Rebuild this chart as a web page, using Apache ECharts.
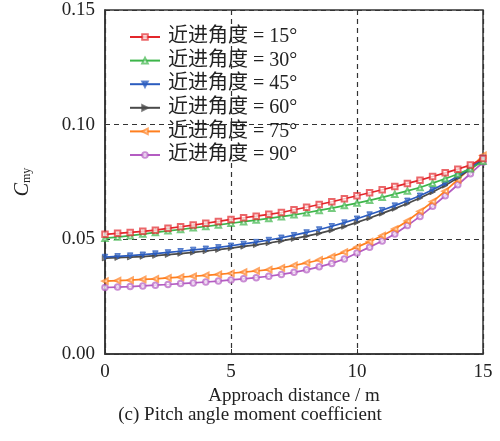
<!DOCTYPE html>
<html>
<head>
<meta charset="utf-8">
<script src="https://cdn.jsdelivr.net/npm/echarts@6/dist/echarts.min.js"></script>
<style>
  html, body { margin: 0; padding: 0; background: #fff; }
  #chart { width: 500px; height: 441px; }
</style>
</head>
<body>
<div id="chart"></div>
<script>
// approach distance, m (0 .. 15 step 0.5)
let distance = [0, 0.5, 1, 1.5, 2, 2.5, 3, 3.5, 4, 4.5, 5, 5.5, 6, 6.5, 7, 7.5,
    8, 8.5, 9, 9.5, 10, 10.5, 11, 11.5, 12, 12.5, 13, 13.5, 14, 14.5, 15];

let angle15 = [.0522, .0526, .0530, .0535, .0540, .0548, .0555, .0562, .0570, .0578, .0587,
    .0594, .0601, .0609, .0617, .0629, .0640, .0652, .0664, .0677, .0690,
    .0703, .0716, .0730, .0744, .0758, .0774, .0790, .0806, .0824, .0852];
let angle30 = [.0505, .0510, .0516, .0523, .0530, .0537, .0543, .0550, .0556, .0563, .0570,
    .0577, .0584, .0591, .0599, .0607, .0616, .0626, .0636, .0647, .0658,
    .0670, .0683, .0697, .0711, .0726, .0745, .0764, .0785, .0808, .0840];
let angle45 = [.0423, .0426, .0429, .0433, .0438, .0443, .0448, .0454, .0459, .0465, .0472,
    .0480, .0488, .0497, .0507, .0518, .0530, .0543, .0557, .0573, .0590,
    .0608, .0627, .0647, .0668, .0690, .0716, .0744, .0775, .0812, .0855];
let angle60 = [.0418, .0420, .0422, .0425, .0429, .0433, .0438, .0443, .0449, .0455, .0462,
    .0469, .0476, .0484, .0493, .0503, .0514, .0526, .0540, .0556, .0574,
    .0593, .0613, .0634, .0656, .0680, .0706, .0735, .0768, .0806, .0848];
let angle75 = [.0318, .0320, .0322, .0325, .0328, .0332, .0335, .0339, .0343, .0347, .0352,
    .0357, .0362, .0368, .0376, .0386, .0397, .0410, .0425, .0444, .0466,
    .0490, .0516, .0545, .0580, .0622, .0664, .0710, .0760, .0812, .0866];
let angle90 = [.0290, .0292, .0294, .0297, .0300, .0303, .0307, .0310, .0314, .0318, .0323,
    .0328, .0333, .0339, .0347, .0356, .0367, .0380, .0395, .0414, .0440,
    .0466, .0493, .0523, .0560, .0600, .0644, .0690, .0738, .0786, .0836];

let seriesNames = ['近进角度 = 15°', '近进角度 = 30°', '近进角度 = 45°',
    '近进角度 = 60°', '近进角度 = 75°', '近进角度 = 90°'];
let seriesValues = [angle15, angle30, angle45, angle60, angle75, angle90];

let colors = ['#e3262b', '#3db54a', '#2b5cbf', '#4a4a4a', '#ff7f1f', '#b45cc2'];
let symbols = ['emptyRect', 'emptyTriangle', 'triangle', 'triangle', 'emptyTriangle', 'emptyCircle'];
let rotations = [0, 0, 180, -90, 90, 0];

let serif = '"Liberation Serif", "Times New Roman", serif';
let cjk = '"Liberation Serif", "Noto Sans CJK SC", serif';

let myChart = echarts.init(document.getElementById('chart'));

let series = seriesNames.map((name, i) => ({
    name: name,
    type: 'line',
    data: distance.map((d, j) => [d, seriesValues[i][j]]),
    symbol: symbols[i],
    symbolSize: 5.5,
    symbolRotate: rotations[i],
    showSymbol: true,
    color: colors[i],
    lineStyle: { width: 1.7, color: colors[i] },
    itemStyle: { color: colors[i], borderColor: colors[i], borderWidth: 1, opacity: 0.7 },
    z: 10 - i
}));

let option = {
    animation: false,
    backgroundColor: '#fff',
    title: {
        text: '(c) Pitch angle moment coefficient',
        left: 'center',
        top: 406,
        padding: 0,
        textStyle: { fontFamily: serif, fontSize: 19, fontWeight: 'normal', color: '#222' }
    },
    grid: {
        left: 105, right: 17, top: 10, bottom: 87,
        show: true, borderColor: '#333', borderWidth: 1.5,
        containLabel: false
    },
    legend: {
        orient: 'vertical',
        left: 124, top: 22,
        itemWidth: 30, itemHeight: 7, itemGap: 3.6,
        textStyle: { fontFamily: cjk, fontSize: 20, color: '#222', padding: [0, 0, 0, 3] },
        data: seriesNames
    },
    xAxis: {
        type: 'value',
        min: 0, max: 15, interval: 5,
        name: 'Approach distance / m',
        nameLocation: 'middle',
        nameGap: 30,
        nameTextStyle: { fontFamily: serif, fontSize: 19, color: '#222' },
        axisLine: { show: true, lineStyle: { color: '#333', width: 1.5 } },
        axisTick: { show: true, inside: true, length: 5, lineStyle: { color: '#333' } },
        axisLabel: { fontFamily: serif, fontSize: 19, color: '#222', margin: 9 },
        splitLine: { show: true, lineStyle: { color: '#333', type: [5, 4], width: 1.2 } }
    },
    yAxis: {
        type: 'value',
        min: 0, max: 0.15, interval: 0.05,
        name: '{i|C}{s|my}',
        nameLocation: 'middle',
        nameGap: 72,
        nameRotate: 90,
        nameTextStyle: {
            rich: {
                i: { fontFamily: serif, fontStyle: 'italic', fontSize: 20, color: '#222' },
                s: { fontFamily: serif, fontSize: 12, color: '#222', verticalAlign: 'bottom', padding: [8, 0, 0, 0] }
            }
        },
        axisLine: { show: true, lineStyle: { color: '#333', width: 1.5 } },
        axisTick: { show: true, inside: true, length: 5, lineStyle: { color: '#333' } },
        axisLabel: {
            fontFamily: serif, fontSize: 19, color: '#222', margin: 10,
            formatter: v => v.toFixed(2)
        },
        splitLine: { show: true, lineStyle: { color: '#333', type: [5, 4], width: 1.2 } }
    },
    series: series
};
myChart.setOption(option);
</script>
</body>
</html>
